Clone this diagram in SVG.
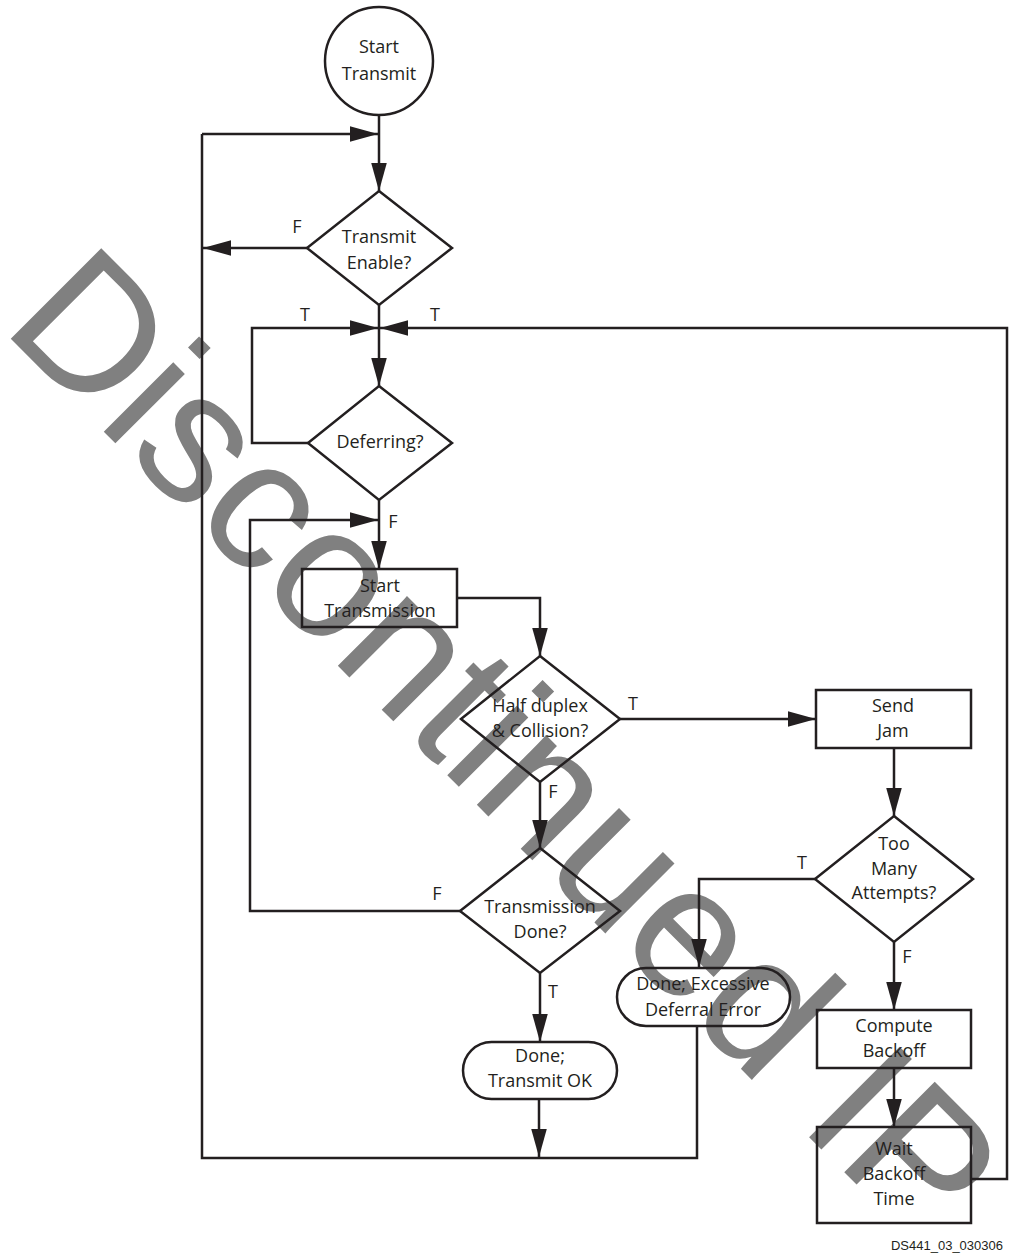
<svg xmlns="http://www.w3.org/2000/svg" width="1010" height="1255" viewBox="0 0 1010 1255">
<style>
.s{fill:none;stroke:#231f20;stroke-width:2.5}
.t{font-family:"Open Sans","Noto Sans","Liberation Sans",sans-serif;font-size:18px;fill:#231f20;text-anchor:middle}
.l{font-family:"Open Sans","Noto Sans","Liberation Sans",sans-serif;font-size:18px;fill:#231f20;text-anchor:middle}
.c{fill:none;stroke:#231f20;stroke-width:2.5;marker-end:url(#ah)}
</style>
<defs>
<marker id="ah" markerUnits="userSpaceOnUse" markerWidth="28" markerHeight="16" viewBox="0 0 27 15" refX="27" refY="7.5" orient="auto">
<path d="M0,0 L27,7.5 L0,15 z" fill="#231f20"/>
</marker>
</defs>
<rect width="1010" height="1255" fill="#fff"/>
<text id="watermark" transform="translate(0,328) rotate(45)" font-family="'Liberation Sans',Arial,sans-serif" font-size="186" fill="#808080">Discontinued IP</text>
<g id="connectors">
<path class="c" d="M379,115 V191"/>
<path class="s" d="M697,1026 V1158 H202 V134"/>
<path class="c" d="M202,134 H378"/>
<path class="c" d="M539,1099 V1157"/>
<path class="c" d="M307,248 H203"/>
<path class="c" d="M379,305 V386"/>
<path class="c" d="M308,443 H252 V328 H378"/>
<path class="c" d="M971,1179 H1007 V328 H380"/>
<path class="c" d="M379,500 V569"/>
<path class="c" d="M461,911 H250 V520 H378"/>
<path class="c" d="M457,598 H540 V656"/>
<path class="c" d="M620,719 H816"/>
<path class="c" d="M540,782 V848"/>
<path class="c" d="M540,973 V1042"/>
<path class="c" d="M894,748 V816"/>
<path class="c" d="M815,879 H699 V967"/>
<path class="c" d="M894,942 V1010"/>
<path class="c" d="M894,1068 V1127"/>
</g>
<g id="labels">
<text class="l" x="297" y="233">F</text>
<text class="l" x="305" y="321">T</text>
<text class="l" x="435" y="321">T</text>
<text class="l" x="393" y="528">F</text>
<text class="l" x="633" y="710">T</text>
<text class="l" x="553" y="798">F</text>
<text class="l" x="802" y="869">T</text>
<text class="l" x="907" y="963">F</text>
<text class="l" x="437" y="900">F</text>
<text class="l" x="553" y="998">T</text>
</g>
<g id="start">
<circle class="s" cx="379" cy="61" r="54"/>
<text class="t" x="379" y="53">Start</text>
<text class="t" x="379" y="80">Transmit</text>
</g>
<g id="transmit-enable">
<path class="s" d="M379,191 L452,248 L379,305 L307,248 Z"/>
<text class="t" x="379" y="243">Transmit</text>
<text class="t" x="379" y="269">Enable?</text>
</g>
<g id="deferring">
<path class="s" d="M379,386 L452,443 L379,500 L308,443 Z"/>
<text class="t" x="380" y="448">Deferring?</text>
</g>
<g id="start-transmission">
<rect class="s" x="302" y="569" width="155" height="58"/>
<text class="t" x="380" y="592">Start</text>
<text class="t" x="380" y="617">Transmission</text>
</g>
<g id="half-duplex">
<path class="s" d="M540,656 L620,719 L540,782 L461,719 Z"/>
<text class="t" x="540" y="712">Half duplex</text>
<text class="t" x="540" y="737">&amp; Collision?</text>
</g>
<g id="send-jam">
<rect class="s" x="816" y="690" width="155" height="58"/>
<text class="t" x="893" y="712">Send</text>
<text class="t" x="893" y="737">Jam</text>
</g>
<g id="too-many">
<path class="s" d="M894,816 L973,879 L894,942 L815,879 Z"/>
<text class="t" x="894" y="850">Too</text>
<text class="t" x="894" y="875">Many</text>
<text class="t" x="894" y="899">Attempts?</text>
</g>
<g id="transmission-done">
<path class="s" d="M540,848 L620,911 L540,973 L460,911 Z"/>
<text class="t" x="540" y="913">Transmission</text>
<text class="t" x="540" y="938">Done?</text>
</g>
<g id="done-excessive">
<rect class="s" x="617" y="968" width="173" height="58" rx="29"/>
<text class="t" x="703" y="990">Done; Excessive</text>
<text class="t" x="703" y="1016">Deferral Error</text>
</g>
<g id="done-ok">
<rect class="s" x="463" y="1042" width="154" height="57" rx="28.5"/>
<text class="t" x="540" y="1062">Done;</text>
<text class="t" x="540" y="1087">Transmit OK</text>
</g>
<g id="compute-backoff">
<rect class="s" x="817" y="1010" width="154" height="58"/>
<text class="t" x="894" y="1032">Compute</text>
<text class="t" x="894" y="1057">Backoff</text>
</g>
<g id="wait-backoff">
<rect class="s" x="817" y="1127" width="154" height="96"/>
<text class="t" x="894" y="1155">Wait</text>
<text class="t" x="894" y="1180">Backoff</text>
<text class="t" x="894" y="1205">Time</text>
</g>
<text x="1003" y="1250" font-family="'Liberation Sans',Arial,sans-serif" font-size="13" fill="#231f20" text-anchor="end">DS441_03_030306</text>
</svg>
